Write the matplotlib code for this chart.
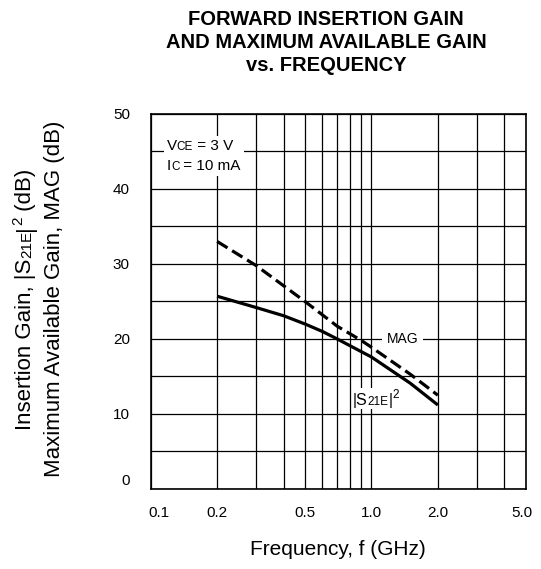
import matplotlib
matplotlib.use('Agg')
import matplotlib.pyplot as plt
from matplotlib.transforms import offset_copy, ScaledTranslation, Bbox
from matplotlib.font_manager import FontProperties
from matplotlib.patches import Rectangle
from matplotlib.ticker import NullFormatter

plt.rcParams['font.family'] = 'Liberation Sans'

# data
freq_mag = [0.2, 0.3, 0.5, 0.7, 0.9, 1.0, 1.5, 2.0]
mag_db = [33.0, 29.8, 25.0, 21.7, 19.8, 18.9, 15.3, 12.5]
freq_s21 = [0.2, 0.3, 0.4, 0.5, 0.6, 0.7, 0.8, 1.0, 1.5, 2.0]
s21_db = [25.7, 24.2, 23.1, 22.0, 21.0, 20.0, 19.1, 17.6, 14.1, 11.2]

x_ticks = [0.1, 0.2, 0.5, 1.0, 2.0, 5.0]
x_tick_labels = ['0.1', '0.2', '0.5', '1.0', '2.0', '5.0']
x_grid = [0.3, 0.4, 0.6, 0.7, 0.8, 0.9, 3.0, 4.0]
y_ticks = [0, 10, 20, 30, 40, 50]
y_grid = [5, 15, 25, 35, 45]

title_lines = ['FORWARD INSERTION GAIN', 'AND MAXIMUM AVAILABLE GAIN', 'vs. FREQUENCY']

fig = plt.figure(figsize=(5.41, 5.69), dpi=100)
ax = fig.add_axes([0.2786, 0.1406, 0.6931, 0.6591])
ax.set_xscale('log')
ax.set_xlim(0.1, 5.0)
ax.set_ylim(0, 50)
ax.set_xticks(x_ticks)
ax.set_xticklabels(x_tick_labels)
ax.set_xticks(x_grid, minor=True)
ax.xaxis.set_minor_formatter(NullFormatter())
ax.set_yticks(y_ticks)
ax.set_yticks(y_grid, minor=True)
ax.yaxis.set_minor_formatter(NullFormatter())
ax.tick_params(which='both', length=0, labelsize=11)
ax.tick_params(axis='y', pad=15)
ax.tick_params(axis='x', pad=12)
ax.grid(which='both', color='black', lw=0.9)
ax.set_axisbelow(True)
for sp in ax.spines.values():
    sp.set_linewidth(1.2)

# small nudges of edge labels like in the original
def nudge(label, dx, dy):
    label.set_transform(label.get_transform() +
                        ScaledTranslation(dx / 100, dy / 100, fig.dpi_scale_trans))

xt = ax.xaxis.get_major_ticks()
nudge(xt[0].label1, 8, 0)
nudge(xt[-1].label1, -4, 0)
yt = ax.yaxis.get_major_ticks()
nudge(yt[0].label1, 0, 9)

# curves
ax.plot(freq_s21, s21_db, color='black', lw=2.3, solid_capstyle='butt', zorder=2)
ax.plot(freq_mag, mag_db, color='black', lw=2.3, linestyle=(0, (3.8, 1.7)), zorder=2)


def rich(target, x, y, parts, transform, rotation=0, ha='left'):
    # draw text pieces of different sizes one after another
    renderer = fig.canvas.get_renderer()
    widths = []
    for s, size, rise in parts:
        w, h, d = renderer.get_text_width_height_descent(
            s, FontProperties(family='Liberation Sans', size=size), ismath=False)
        widths.append(w)
    pos = -sum(widths) / 2 if ha == 'center' else 0
    texts = []
    for (s, size, rise), w in zip(parts, widths):
        r = rise * fig.dpi / 72
        if rotation == 90:
            dx, dy = -r, pos
        else:
            dx, dy = pos, r
        tr = offset_copy(transform, fig=fig, x=dx, y=dy, units='dots')
        t = target.text(x, y, s, transform=tr, fontsize=size, rotation=rotation,
                        rotation_mode='anchor', ha='left', va='baseline', zorder=3)
        texts.append(t)
        pos += w
    return texts


def backdrop(texts, pad):
    renderer = fig.canvas.get_renderer()
    bb = Bbox.union([t.get_window_extent(renderer) for t in texts])
    inv = fig.transFigure.inverted()
    (x0, y0), (x1, y1) = inv.transform([(bb.x0 - pad, bb.y0 - pad), (bb.x1 + pad, bb.y1 + pad)])
    ax.add_patch(Rectangle((x0, y0), x1 - x0, y1 - y0, transform=fig.transFigure,
                           facecolor='white', edgecolor='none', zorder=2.5))


# conditions box
t1 = rich(ax, 0.0427, 0.904, [('V', 11, 0), ('CE', 8.5, 0), (' = 3 V', 11, 0)], ax.transAxes)
t2 = rich(ax, 0.0427, 0.8507, [('I', 11, 0), ('C', 8.5, 0), (' = 10 mA', 11, 0)], ax.transAxes)
backdrop(t1 + t2, 3)

# curve labels
ax.text(1.38, 20, 'MAG', fontsize=10, ha='center', va='center', zorder=3,
        bbox=dict(boxstyle='square,pad=0.35', facecolor='white', edgecolor='none'))
t3 = rich(ax, 0.5395, 0.224, [('|S', 11.5, 0), ('21E', 8.5, 0), ('|', 11.5, 0), ('2', 8.5, 5)],
          ax.transAxes)
backdrop(t3, 1)

# title
for i, line in enumerate(title_lines):
    fig.text(326 / 541, 1 - (25 + 23 * i) / 569, line, ha='center', va='baseline',
             fontsize=14.5, fontweight='bold')

# axis labels
fig.text(338 / 541, 14 / 569, 'Frequency, f (GHz)', ha='center', va='baseline', fontsize=15)
rich(fig, 31 / 541, 0.4745,
     [('Insertion Gain, |S', 16, 0), ('21E', 11, 0), ('|', 16, 0), ('2', 11, 6.5), (' (dB)', 16, 0)],
     fig.transFigure, rotation=90, ha='center')
rich(fig, 60 / 541, 0.4745, [('Maximum Available Gain, MAG (dB)', 16, 0)],
     fig.transFigure, rotation=90, ha='center')

fig.savefig('out.png', dpi=100, facecolor='white')
